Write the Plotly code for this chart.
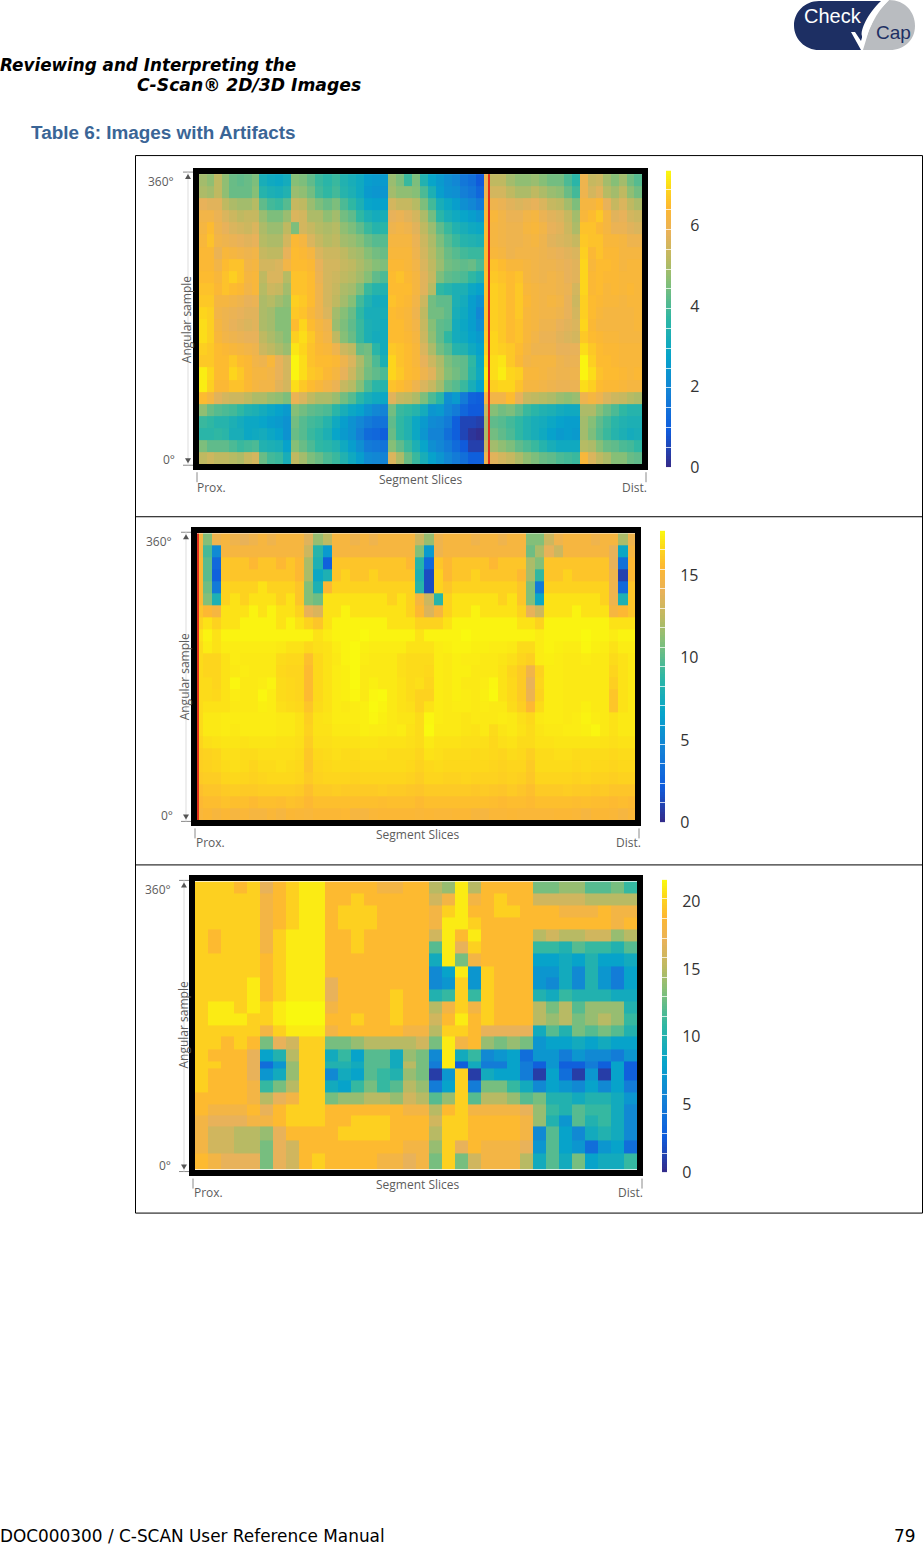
import numpy as np
import plotly.graph_objects as go

W, H = 923, 1556
YK = 1.0076
R = 9
H1_X = [0,0.94,1.88,2.82,3.76,4.7,5.64,6.58,7.5,8.5,9.5,10.5,11.5,12.5,13.5,14.5,15.5,16.5,17.5,18.5,19.5,20.5,21.5,22.5,23.5,
        24.5,25.5,26.5,27.5,28.5,29.5,30.5,31.5,32.5,33.5,34.5,35.5,36.0,36.25,37.26,38.28,39.3,40.32,41.34,42.36,43.38,44.4,45.42,46.44,47.46,
        48.42,49.39,50.35,51.31,52.27,53.24,54.2,55.16]
H1_Y = [360,345,330,315,300,285,270,255,240,225,210,195,180,165,150,135,120,105,90,75,60,45,30,15,0]
H1_Z = [
[4.9,4.7,5.2,4.7,4.3,4.2,4.3,4.5,3.2,3.0,2.9,3.1,4.6,4.5,4.2,3.8,3.6,3.8,3.4,3.2,3.0,2.6,2.5,2.5,4.8,4.5,3.8,4.5,3.4,2.8,2.5,2.2,2.0,1.6,1.4,0.9,6.0,R,5.2,5.2,4.9,4.7,4.7,4.8,4.6,4.4,4.4,4.0,3.6,6.0,5.3,5.4,4.9,4.6,4.9,4.4,4.1],
[5.0,4.9,5.2,4.7,4.3,4.3,4.3,4.6,3.5,3.3,3.2,3.4,4.8,4.7,4.4,3.9,3.7,3.9,3.5,3.3,3.0,2.5,2.4,2.4,4.9,4.7,4.7,4.6,4.0,3.3,2.6,2.3,2.2,1.8,1.6,1.2,6.0,R,5.5,5.5,5.2,5.0,5.0,5.2,5.0,4.8,4.7,4.3,3.9,6.0,5.5,5.7,5.1,4.9,5.2,4.7,4.4],
[5.8,5.7,5.7,5.2,5.0,4.9,4.9,5.1,4.2,3.9,3.8,4.1,5.3,5.2,4.8,4.5,4.3,4.5,4.0,3.7,3.3,2.8,2.7,2.7,5.5,5.3,5.3,5.1,4.5,3.9,3.2,2.9,2.6,2.2,2.0,1.7,6.3,R,6.0,5.9,5.7,5.6,5.7,5.8,5.6,5.3,5.2,4.9,4.5,6.2,6.2,6.4,5.8,5.3,5.6,5.2,5.0],
[6.1,6.1,5.9,5.6,5.4,5.2,5.3,5.3,4.8,4.5,4.5,4.8,5.6,5.5,5.0,5.0,4.7,4.9,4.4,4.2,3.7,3.3,3.1,3.2,5.8,5.9,5.7,5.5,5.0,4.4,3.6,3.2,3.0,2.8,2.6,2.4,6.4,R,6.3,6.1,5.9,5.9,6.1,6.2,5.9,5.7,5.6,5.3,4.9,6.3,6.5,6.7,6.2,5.7,5.8,5.5,5.4],
[6.2,6.5,6.0,5.8,5.6,5.5,5.4,5.6,5.0,4.8,4.8,5.2,4.5,5.5,5.3,5.1,5.0,5.1,4.7,4.5,4.2,3.8,3.5,3.6,6.0,6.1,6.0,5.7,5.2,4.8,4.2,3.8,3.4,3.2,3.0,2.9,6.5,R,6.2,6.1,6.0,6.0,6.2,6.3,6.1,5.8,5.7,5.4,5.0,6.6,6.6,6.4,6.2,5.9,5.9,5.7,5.6],
[6.3,6.6,6.1,6.0,5.9,5.8,5.7,5.8,5.1,5.0,5.0,5.5,6.4,6.2,5.6,5.3,5.1,5.2,4.9,4.8,4.6,4.3,4.1,4.1,6.2,6.2,6.2,5.9,5.4,5.0,4.5,4.1,3.8,3.5,3.4,3.3,6.5,R,6.2,6.1,6.0,6.0,6.1,6.2,6.0,5.7,5.6,5.5,5.3,6.7,6.6,6.6,6.3,6.3,6.2,6.0,6.0],
[6.4,6.4,5.9,6.3,6.2,6.1,6.0,6.1,5.3,5.2,5.2,5.8,6.5,6.4,6.2,5.6,5.4,5.4,5.2,5.0,4.9,4.6,4.4,4.3,6.3,6.3,6.3,6.0,5.5,5.1,4.7,4.3,4.1,3.9,3.8,3.8,6.5,R,6.3,6.2,6.0,6.1,6.1,6.1,6.0,5.9,5.8,5.7,5.6,6.8,6.4,6.6,6.4,6.4,6.2,6.2,6.2],
[6.4,6.4,6.1,6.5,6.6,6.6,6.1,6.2,5.5,5.5,5.6,6.1,6.5,6.5,6.4,5.8,5.5,5.5,5.3,5.2,5.0,4.8,4.6,4.5,6.4,6.4,6.3,6.1,5.6,5.2,4.8,4.4,4.3,4.2,4.3,4.0,6.5,R,6.6,6.5,6.3,6.3,6.2,6.1,6.0,6.0,5.9,5.8,5.7,6.9,6.3,6.5,6.5,6.4,6.2,6.3,6.3],
[6.5,6.5,6.3,6.6,6.8,6.6,6.2,6.3,5.2,5.6,5.6,5.1,6.6,6.6,6.5,5.9,5.5,5.4,5.2,5.1,4.9,4.6,4.2,4.0,6.5,6.6,6.4,6.2,5.7,5.3,4.5,4.2,4.1,4.0,3.7,3.4,6.6,R,6.7,6.6,6.5,6.6,6.2,6.1,6.0,6.1,6.0,5.8,5.7,6.9,6.4,6.5,6.4,6.4,6.3,6.3,6.3],
[6.6,6.6,6.4,6.6,6.5,6.4,6.1,6.3,5.1,5.4,5.3,4.9,6.6,6.6,6.5,6.0,5.5,5.3,5.0,4.9,4.5,3.8,3.5,3.4,6.5,6.5,6.5,6.2,5.7,5.1,3.7,3.5,3.3,3.3,2.9,2.7,6.6,R,6.8,6.7,6.5,6.7,6.3,6.2,6.1,6.1,6.0,5.9,5.5,6.9,6.4,6.5,6.3,6.4,6.3,6.4,6.3],
[6.7,6.7,6.2,6.2,6.1,6.0,5.8,5.9,5.0,5.1,4.9,4.7,6.8,6.7,6.5,6.0,5.5,5.2,4.9,4.6,3.9,3.4,3.1,3.1,6.6,6.5,6.4,6.1,5.4,4.4,4.2,4.2,3.3,3.1,2.6,2.3,6.6,R,6.8,6.7,6.5,6.7,6.4,6.2,6.1,6.2,6.1,5.8,5.4,6.8,6.5,6.4,6.3,6.3,6.2,6.3,6.3],
[6.9,6.8,6.1,6.0,5.9,5.8,5.7,5.7,5.0,4.9,4.6,4.6,6.7,6.6,6.3,6.0,5.6,4.9,4.6,4.3,3.7,3.2,3.2,3.2,6.5,6.4,6.3,6.0,5.2,4.4,4.4,4.2,3.2,3.0,2.6,2.0,6.6,R,6.8,6.7,6.5,6.7,6.3,6.2,6.1,6.1,6.0,5.8,5.5,6.8,6.5,6.3,6.2,6.2,6.2,6.2,6.3],
[7.0,6.8,6.2,6.0,5.8,5.7,5.6,5.7,5.0,4.9,4.6,4.6,6.5,6.9,6.5,6.2,6.0,4.8,4.5,4.2,3.8,3.3,3.2,3.1,6.5,6.5,6.3,6.1,5.3,4.6,4.2,4.1,3.1,2.9,2.6,2.2,6.6,R,6.8,6.7,6.5,6.6,6.3,6.2,6.0,6.0,5.8,5.7,5.6,6.9,6.4,6.2,6.2,6.2,6.2,6.2,6.3],
[7.0,6.8,6.3,6.1,6.0,5.9,5.8,5.8,5.2,5.0,4.8,4.6,6.8,7.0,6.7,6.3,6.1,5.2,4.6,4.3,3.8,3.3,3.1,3.1,6.5,6.5,6.4,6.2,5.4,4.7,4.2,3.7,3.1,3.0,2.7,2.5,6.7,R,6.9,6.7,6.5,6.6,6.3,6.1,5.9,5.9,5.7,5.6,5.5,6.7,6.5,6.4,6.3,6.3,6.2,6.2,6.2],
[6.8,6.7,6.5,6.4,6.3,6.2,6.1,6.0,5.4,5.2,5.0,4.8,7.1,6.9,6.6,6.4,6.3,6.0,5.4,5.2,4.3,4.4,3.6,3.1,6.7,6.6,6.5,6.3,5.6,5.0,4.4,4.1,3.5,3.4,3.0,2.7,6.8,R,6.9,6.8,6.7,6.5,6.2,6.0,6.0,6.0,5.8,5.8,5.8,7.0,6.7,6.5,6.4,6.4,6.3,6.3,6.3],
[6.7,6.7,6.5,6.5,6.7,6.5,6.4,6.1,6.0,6.3,5.8,5.5,7.3,7.0,6.6,6.5,6.5,6.4,6.0,5.6,5.0,4.5,4.0,3.3,6.9,6.6,6.5,6.3,5.8,5.4,5.0,4.5,4.3,4.2,3.7,2.9,7.0,R,7.0,7.1,6.7,6.4,6.1,6.2,6.2,6.2,6.0,5.9,5.9,7.3,6.8,6.5,6.5,6.4,6.3,6.3,6.3],
[7.2,6.9,6.5,6.5,6.9,6.7,6.4,6.2,6.2,6.1,5.8,5.5,7.3,7.0,6.7,6.6,6.4,6.2,5.8,5.4,4.9,4.4,4.2,4.0,6.9,6.7,6.5,6.4,6.0,5.7,5.1,4.6,4.4,4.2,3.6,3.0,7.2,R,7.0,7.2,6.9,6.8,6.3,6.3,6.2,6.1,6.0,6.0,6.0,7.3,7.0,6.6,6.5,6.5,6.4,6.3,6.4],
[7.2,6.8,6.4,6.4,6.6,6.6,6.4,6.2,6.1,6.1,5.7,5.5,7.0,6.7,6.5,6.3,6.1,5.9,5.3,5.1,4.6,4.0,3.6,3.5,6.6,6.5,6.3,6.0,5.6,5.3,4.9,4.3,4.1,3.8,3.2,2.7,7.0,R,6.8,6.9,6.9,6.6,6.2,6.2,6.1,6.0,5.9,5.9,5.9,7.0,6.8,6.5,6.4,6.4,6.3,6.2,6.2],
[6.5,6.2,5.7,5.5,5.4,5.4,5.2,5.0,5.0,4.8,4.7,4.5,5.9,5.6,5.2,5.0,5.0,4.8,4.4,4.1,3.6,3.2,3.0,2.9,5.7,5.3,5.2,5.0,4.5,4.0,3.6,2.2,2.5,1.7,1.1,1.0,6.2,R,6.1,6.1,6.5,5.8,5.3,5.2,5.1,5.0,4.8,4.7,4.8,6.0,6.2,6.0,5.6,5.4,5.3,5.1,5.0],
[4.7,4.3,4.1,4.0,3.9,3.7,3.4,3.3,3.1,2.9,2.7,2.5,4.6,4.4,4.2,4.1,4.0,3.6,3.2,2.9,2.7,2.3,2.0,1.9,4.4,3.8,3.7,3.5,3.1,2.4,2.5,2.0,1.7,1.2,0.9,0.9,5.3,R,4.6,4.4,4.5,4.2,3.8,3.6,3.4,3.3,3.1,3.0,3.0,5.0,5.0,4.6,4.3,4.0,3.7,3.5,3.5],
[3.8,3.7,3.5,3.5,3.3,3.1,2.9,2.9,2.8,2.6,2.5,2.3,4.4,4.1,3.9,3.8,3.5,3.0,2.6,2.3,2.0,1.7,1.5,1.5,4.2,3.7,3.4,2.9,2.5,2.1,2.0,1.7,1.0,0.5,0.5,0.4,5.0,R,4.2,4.1,3.9,3.7,3.4,3.2,3.1,2.9,2.7,2.6,2.6,4.9,4.6,4.2,3.9,3.6,3.4,3.3,3.3],
[3.6,3.6,3.7,3.6,3.2,3.2,2.9,3.0,3.1,2.9,2.7,2.3,4.3,4.1,3.8,3.6,3.3,2.8,2.5,2.3,1.8,1.3,1.2,1.0,4.3,3.7,3.4,2.9,2.4,1.9,1.9,1.4,1.0,0.5,0.2,0.1,5.0,R,4.4,4.2,4.0,3.7,3.4,3.2,3.0,2.7,2.5,2.6,2.5,4.9,4.5,4.1,3.8,3.5,3.3,3.1,3.2],
[4.5,4.2,4.2,4.2,4.0,3.8,3.9,4.0,3.4,3.3,3.2,2.7,4.6,4.3,4.0,3.7,3.6,3.4,3.0,2.6,2.2,1.7,1.6,1.5,4.6,4.2,3.8,3.3,2.8,2.2,2.0,1.7,1.3,0.9,0.4,0.4,5.4,R,4.9,4.7,4.5,4.2,4.0,3.8,3.5,3.2,3.0,3.0,3.0,5.1,5.0,4.6,4.3,4.2,4.0,3.9,3.7],
[5.2,5.4,5.2,5.2,5.1,5.0,5.3,5.5,4.3,3.9,3.8,3.2,5.2,4.9,4.5,4.3,4.0,3.8,3.4,3.0,2.6,2.1,2.0,1.9,5.6,5.0,4.3,3.8,3.2,2.7,2.4,2.0,1.7,1.4,1.0,1.0,6.0,R,5.7,5.5,5.3,5.0,4.7,4.5,4.3,4.2,4.0,3.9,3.8,6.3,5.6,5.2,5.0,4.6,4.6,4.3,4.2],
]

S = 25
H2_X = [0,0.24,0.6,1.6,2.6,3.6,4.6,5.6,6.6,7.6,8.6,9.6,10.6,11.6,12.6,13.6,14.6,15.6,16.6,17.6,18.6,19.6,20.6,21.6,22.6,23.6,24.6,25.6,26.6,27.6,28.6,29.6,30.6,31.6,32.6,33.6,34.6,35.6,36.6,37.6,38.6,39.6,40.6,41.6,42.6,43.6,44.6,45.6,46.6,47.4]
H2_Y = H1_Y
H2_Z = [
[S,15,11,14.5,15,14.5,14,14.5,15,14.5,15,15,15,13.7,11.5,12.5,15,15,14.5,15,14.5,15,15,15,15,13,11.5,14.5,15,15,15,14.5,15,15,14.5,15,15,11,11,13,14.5,15,15,15,14.5,15,15,12,14.5],
[S,15,9.5,5,15,15,15,15,15,15,15,15,15,13,8.5,6,15,15,15,15,15,15,15,15,15,11,6,14.5,15,15,15,15,15,15,15,15,15,10.5,12,14,13,15,15,15,15,15,14,7,15],
[S,15.5,10,3,16,16,16,15.5,16,16,15.5,16,15.5,12,8,2.5,16,16,16,16,16,16,16,16,15.5,8.5,3,16,15.5,16,16,16,16,15.5,16,16,16,12,11,16,16,16,16,16,16,16,14,3.5,15.5],
[S,15.5,10,2.5,16,16,16,16,16,16,16,16,15.5,12,7,8,16,16.5,16,16,16.5,16,16,16,16,8,1.5,16.5,15.5,16,16,16.5,16,16,16,16,15.5,12,9,16,16,16.5,16,16,16,16,14.5,1,15.5],
[S,15.5,10.5,4,16.5,16.5,16.5,16.5,17,16.5,16.5,16.5,16,11,8,15.5,16.5,16.5,16.5,16.5,16.5,16.5,16.5,16.5,16.5,8.5,1.5,16.5,16,16.5,16.5,16.5,16.5,16.5,16.5,16.5,16,11,4,16.5,16.5,16.5,16.5,16.5,16.5,16.5,14.5,3,16],
[S,15.5,11,8,16.5,17,16.5,17,17,17,16.5,17,16,11,10.5,17,17,17,17,17,17,17,16.5,17,16.5,15,13,8.5,16.5,17,17,17,17,17,16.5,17,16,11,7,17,17,17,17,17,17,16.5,14.5,8,16],
[S,16,15.5,15,17,17,17,17.5,17,17.5,17,17,16.5,14,13.5,17,17,17.5,17,17,17,17,17,17,16.5,15.5,13.5,15,16.5,17,17,17.5,17,17,17,17,16.5,14,13,17,17,17,17.5,17,17,17,15,15.5,16],
[S,16.5,17,16.5,17,17,17.5,17.5,17.5,17.5,17,17.5,17,16.5,16,17,17.5,17.5,17.5,17.5,17.5,17.5,17,17,17,16.5,16.5,16.5,17,17.5,17.5,17.5,17.5,17.5,17.5,17.5,17,17,16.5,17.5,17.5,17.5,17.5,17.5,17.5,17.5,17,17,17],
[S,17,17.5,17,17.5,17.5,17.5,17.5,17.5,17.5,17.5,17.5,17.5,17.5,17,17.3,17.5,17.5,17.5,17.7,17.5,17.5,17.5,17.5,17.5,17,17.5,17.5,17.5,17.5,17.7,17.5,17.5,17.5,17.5,17.5,17.5,17.5,17.3,17.5,17.5,17.5,17.5,17.7,17.5,17.5,17.3,17.5,17.5],
[S,16.8,17.3,17,17.3,17.3,17.3,17.3,17.3,17.3,17.2,17,17,16.7,16.9,17,17.3,17.5,17.7,17.4,17.3,17.3,17.3,17.3,17,17,17,17.3,17.4,17.5,17.5,17.4,17.4,17.3,17.3,17.2,16.8,16.8,17.3,17.5,17.4,17.3,17.3,17.6,17.4,17.3,17,17.3,17.3],
[S,16.8,16.6,16.6,17,17.3,17.2,17.2,17.2,17.2,16.8,16.7,16.7,15.8,16.7,17,17.2,17.5,17.7,17.3,17.2,17.2,17.2,16.9,16.8,16.8,16.8,17.3,17.2,17.4,17.3,17.3,17.2,17.2,17.1,16.9,16.6,16.4,17.3,17.4,17.3,17.2,17.2,17.3,17.2,17.2,16.8,17,17.2],
[S,16.8,16.6,16.6,17,17.2,17.3,17.2,17.2,17.2,16.7,16.6,16.6,15.6,16.7,17,17.3,17.4,17.7,17.2,17.2,17.2,17.2,16.9,16.8,16.8,16.7,17.3,17.2,17.4,17.4,17.2,17.2,17.2,17,16.6,16.2,14.6,16.5,17.3,17.3,17.2,17.2,17.2,17.2,17.2,16.6,17,17.2],
[S,16.8,16.8,16.6,17,17.6,17.2,17.2,17.3,17.5,16.8,16.7,16.6,15.6,16.7,17,17.3,17.4,17.7,17.2,17.4,17.2,17.2,17,16.8,16.9,16.6,17.3,17.2,17.4,17.2,17.2,17.3,17.6,17,16.7,16.2,14,16.6,17.3,17.3,17.2,17.2,17.2,17.2,17.2,16.4,17,17.2],
[S,16.8,16.8,16.7,17,17.3,17.2,17.2,17.6,17.3,16.8,16.7,16.6,15.6,16.7,17,17.3,17.4,17.6,17.2,17.6,17.7,17.2,17,16.8,16.5,16.5,17.3,17.2,17.4,17.3,17.2,17.4,17.7,17,16.7,16.2,14.3,16.5,17.3,17.3,17.2,17.2,17.2,17.2,17.2,16,17,17.2],
[S,16.8,17,17,17,17.2,17.2,17.2,17.4,17.3,16.9,16.8,16.7,16,16.8,17,17.3,17.2,17.3,17.4,17.7,17.5,17.2,17,16.9,16.5,17,17.3,17.2,17.3,17.3,17.2,17.3,17.2,17.2,16.8,16.4,15.5,16.8,17.3,17.3,17.2,17.2,17.4,17.2,17.2,16,17,17.2],
[S,16.8,17.2,17.2,17.3,17.3,17.3,17.3,17.3,17.3,17.2,17.2,17,16.4,17,17.1,17.3,17.3,17.3,17.4,17.6,17.4,17.2,17.1,17.1,16.8,17.6,17.3,17.2,17.2,17.1,17.2,17.2,17.2,17.3,17.2,16.9,16.7,17.2,17.3,17.3,17.2,17.3,17.5,17.3,17.2,17,17.2,17.2],
[S,16.8,17.2,17.2,17.3,17.2,17.3,17.3,17.3,17.3,17.2,17.2,17,16.5,17,17,17.2,17.2,17.2,17.4,17.3,17.3,17.2,17.3,17,16.8,17.7,17.2,17.2,17.2,17.1,17,17.2,16.8,17.1,17.2,17,16.8,17.1,17.2,17.2,17.3,17.3,17.4,17.6,17.2,17,17.2,17.2],
[S,16.6,16.9,17,17.1,17.1,17,17.1,17.1,17.1,17,17,16.9,16.3,16.9,16.9,17,17,17,17.1,17.1,17,17,17,16.9,16.8,17.2,17,17,17,16.9,16.9,16.9,16.7,16.9,17,16.8,16.8,17,17,17.1,17.1,17.1,17.1,17.1,17,16.9,17,17],
[S,16.4,16.5,16.6,16.9,16.9,16.8,16.8,16.9,16.9,16.9,16.9,16.8,16.1,16.7,16.8,16.9,16.8,16.8,16.9,16.9,16.9,16.8,16.8,16.8,16.6,17,16.9,16.8,16.8,16.8,16.7,16.8,16.7,16.6,16.8,16.7,16.4,16.8,16.8,16.9,16.9,16.8,16.8,16.8,16.8,16.7,16.8,16.8],
[S,16.4,16.5,16.6,16.8,16.9,16.8,16.6,16.8,16.8,16.9,16.8,16.7,16,16.6,16.7,16.8,16.8,16.7,16.8,16.8,16.8,16.8,16.8,16.7,16.5,16.7,16.8,16.7,16.7,16.7,16.7,16.7,16.6,16.5,16.6,16.6,16.2,16.8,16.8,16.8,16.8,16.7,16.8,16.7,16.7,16.6,16.7,16.7],
[S,16.2,16.3,16.3,16.6,16.7,16.6,16.5,16.6,16.7,16.7,16.7,16.6,16.2,16.5,16.6,16.6,16.6,16.5,16.6,16.6,16.6,16.6,16.6,16.5,16.3,16.6,16.6,16.5,16.5,16.6,16.5,16.5,16.5,16.4,16.5,16.4,16.1,16.6,16.6,16.6,16.6,16.5,16.6,16.5,16.5,16.4,16.5,16.5],
[S,15.8,16,16,16.2,16.3,16.2,16.2,16.3,16.3,16.3,16.3,16.2,15.8,16.2,16.2,16.3,16.2,16.2,16.2,16.2,16.3,16.2,16.2,16.1,16,16.2,16.2,16.2,16.2,16.2,16.1,16.2,16.1,16,16.2,16,15.8,16.2,16.2,16.2,16.3,16.2,16.2,16.1,16.2,16,16,16],
[S,15.5,15.7,15.7,15.9,15.8,15.8,15.6,15.8,15.8,15.7,15.9,15.8,15.5,15.8,15.8,15.8,15.8,15.8,15.8,15.8,15.7,15.8,15.8,15.8,15.6,15.8,15.8,15.8,15.8,15.8,15.8,15.8,15.7,15.6,15.7,15.7,15.6,15.8,15.8,15.8,15.8,15.7,15.8,15.7,15.7,15.6,15.7,15.6],
[S,15.2,15.4,15.1,15.4,15,15.3,15,15,15.3,15,15.4,15.3,15.2,15.4,15.4,15.4,15.5,15,15,15.3,15.4,15.4,15.4,15.4,15.3,15.4,15.3,15.3,15.4,15.4,15.1,15,15.3,15.3,15.4,15.3,15.3,15.3,15.3,15.4,15.4,15.3,15,15.4,15.4,15.3,15,15.3],
]

H3_X = list(range(0, 35))
H3_Y = [360,345,330,315,300,285,270,253.75,240,225,210,195,180,166.25,150,135,126.25,111.25,96.25,81.25,67.5,53.75,36.25,19.6,0]
H3_Z = [
[20,20,20,19,20,17,19,20,21,21,19,19,19,19,18,18,19,19,15,14,21,15,19,19,19,19,13,13,14,14,12,12,13,11],
[20,20,20,20,20,18,19,20,21,21,19,19,20,19,19,19,19,19,16,18,21,18,19,20,19,19,16,16,16,16,15,15,15,15],
[20,20,20,20,20,18,19,20,21,21,19,20,20,20,19,19,19,19,18,20,21,19,19,20,20,19,19,19,18,18,18,19,18,18],
[20,20,20,20,20,18,19,20,21,21,19,20,20,20,19,19,19,19,18,21,21,20,19,19,19,19,19,19,19,19,19,19,18,19],
[20,19,20,20,20,18,20,21,21,21,19,19,20,19,19,19,19,19,16,21,19,21,19,19,19,19,15,16,15,15,16,16,14,15],
[20,19,20,20,20,18,20,21,21,21,19,19,20,19,19,19,19,19,12,21,17,20,19,19,19,19,11,11,10,12,11,11,10,12],
[20,20,20,20,20,19,20,21,21,21,19,19,19,19,19,19,19,19,9,21,13,18,19,19,19,19,8,8,9,8,10,8,8,9],
[20,20,20,20,20,19,20,21,21,21,19,19,19,19,19,19,19,19,6,8,21,7,20,19,19,19,7,7,9,6,10,7,5,8],
[20,20,20,20,21,19,20,21,21,21,17,19,19,19,19,19,19,19,6,7,20,7,20,19,19,19,7,6,9,6,10,7,5,8],
[20,20,20,20,21,19,20,21,21,21,17,19,19,19,19,20,19,19,10,11,20,11,20,19,19,19,10,9,11,10,10,10,9,9],
[20,21,21,20,21,20,21,21.5,21.5,21.5,18,19,19,19,19,20,19,19,15,18,20,18,20,19,19,19,15,13,15,12,14,14,14,10],
[20,21,21,21,20,20,21,21.5,21.5,21.5,19,19,20,19,19,20,19,19,16,19,21,19,20,19,19,19,15,14,15,13,14,15,14,11],
[20,20,20,20,20,18,20,21,21,21,18,19,19,19,19,19,18,18,15,20,20,19,17,17,17,17,9,12,10,13,12,13,12,10],
[20,20,19,20,19,13,17,16,20,20,13,13,14,15,15,15,15,16,13,21,18,19,14,13,14,13,7,8,8,9,8,9,8,8],
[20,19,19,19,17,8,10,15,20,20,9,11,8,12,12,9,14,13,6,21,9,11,6,7,8,4,7,7,5,7,6,6,5,7],
[20,20,19,19,17,4,7,14,20,20,10,10,9,12,12,9,15,13,5,21,3,9,5,5,8,5,3,7,3,3,5,3,8,3],
[20,19,19,19,17,7,9,14,20,20,6,9,8,12,11,10,14,13,1,7,20,1,9,8,8,5,1,8,4,1,7,1,8,3],
[20,19,19,19,18,11,13,15,20,20,9,8,11,13,11,12,15,14,5,8,20,5,13,13,11,9,6,8,7,6,8,6,8,5],
[19,19,19,19,18,15,17,18,20,20,13,14,14,15,15,14,16,15,12,14,20,12,15,15,14,12,13,10,10,9,10,10,9,7],
[19,18,18,18,19,17,19,20,20,20,19,19,19,19,19,19,18,18,15,19,20,18,18,18,18,17,14,11,10,12,11,11,9,6],
[18,17,17,17,18,18,19,20,20,20,19,19,20,20,20,19,19,19,16,20,20,19,19,19,19,18,14,10,7,12,10,11,9,6],
[18,16,16,15,15,14,17,19,19,19,19,20,20,20,20,19,19,19,15,20,20,19,19,19,19,18,6,12,8,6,9,10,9,6],
[18,16,16,15,15,13,17,16,19,19,19,19,19,19,19,19,18,18,14,20,17,19,18,18,18,17,7,12,8,7,4,7,8,4],
[19,18,17,17,17,13,17,16,19,20,19,19,19,19,18,18,17,18,13,20,13,16,18,18,18,15,9,12,9,13,8,9,9,11],
]

ZMAX = [7.37, 17.75, 21.6]
CB_TICKS = [[0, 2, 4, 6], [0, 5, 10, 15], [0, 5, 10, 15, 20]]
CB_STANDOFF = [15, 11, 11]
PLOT_PX = [(199, 642, 174, 464), (197, 635, 533, 820), (195, 637, 881, 1169)]
CB_PX = [(666, 671, 170, 467), (660, 665, 530, 822), (662, 667, 879, 1172)]

OVER = 1.05
PARULA = [(0, "#352a87"), (1, "#0f5cdd"), (2, "#1481d6"), (3, "#06a4ca"), (4, "#2eb7a4"), (5, "#87bf77"),
          (5.6, "#bcba62"), (6.3, "#e8b25a"), (7, "#fdb832"), (7.5, "#fdd61c"), (8, "#f9fb0e")]
SCALE = [[i / 8 / OVER, c] for i, c in PARULA] + [[1 / OVER + 0.001, "#e2301c"], [1, "#e2301c"]]


def px(x):
    return x / W


def py(y):
    return 1 - y * YK / H


fig = go.Figure()
grids = [(H1_X, H1_Y, H1_Z), (H2_X, H2_Y, H2_Z), (H3_X, H3_Y, H3_Z)]
for i, (xs, ys, zs) in enumerate(grids):
    n = 2 * i + 1
    xa = "x" if n == 1 else f"x{n}"
    ya = "y" if n == 1 else f"y{n}"
    fig.add_trace(go.Heatmap(x=xs, y=ys, z=zs, zmin=0, zmax=ZMAX[i] * OVER, colorscale=SCALE,
                             showscale=False, hoverinfo="skip", xaxis=xa, yaxis=ya))
    l, r, t, b = PLOT_PX[i]
    frame = dict(showline=True, linecolor="black", linewidth=6, mirror=True, showgrid=False,
                 zeroline=False, showticklabels=False, ticks="")
    fig.layout[f"xaxis{'' if n == 1 else n}"] = dict(domain=[px(l), px(r)], anchor=ya, range=[xs[0], xs[-1]], **frame)
    fig.layout[f"yaxis{'' if n == 1 else n}"] = dict(domain=[py(b), py(t)], anchor=xa, range=[0, 360], **frame)

    levels = np.linspace(0, ZMAX[i], 120)
    m = n + 1
    cl, cr, ct, cb = CB_PX[i]
    fig.add_trace(go.Heatmap(x=[0, 1], y=levels, z=[[v, v] for v in levels], zmin=0, zmax=ZMAX[i] * OVER,
                             colorscale=SCALE, showscale=False, hoverinfo="skip", xaxis=f"x{m}", yaxis=f"y{m}"))
    fig.layout[f"xaxis{m}"] = dict(domain=[px(cl), px(cr)], anchor=f"y{m}", range=[0, 1], visible=False)
    fig.layout[f"yaxis{m}"] = dict(domain=[py(cb), py(ct)], anchor=f"x{m}", side="right", range=[0, ZMAX[i]],
                                   showgrid=False, zeroline=False, showline=False,
                                   tickvals=CB_TICKS[i], ticks="outside", ticklen=CB_STANDOFF[i], tickcolor="rgba(0,0,0,0)",
                                   tickfont=dict(family="Open Sans", size=16, color="#333333"),
                                   minor=dict(tickvals=list(np.linspace(0, ZMAX[i], 16)), ticks="inside", ticklen=5,
                                              tickcolor="rgba(255,255,255,0.75)", tickwidth=1))

GRAY = "#5c5c5c"
anns = []


def text(x, y, s, size, color="#000000", family="Open Sans", anchor="left", angle=0):
    anns.append(dict(x=px(x), y=py(y), xref="paper", yref="paper", text=s, showarrow=False, xanchor=anchor,
                     yanchor="middle", textangle=angle, font=dict(family=family, size=size, color=color)))


DEJA = "DejaVu Sans"
text(-2, 65, "<b><i>Reviewing and Interpreting the</i></b>", 16.8, family=DEJA)
text(135, 85, "<b><i>C-Scan® 2D/3D Images</i></b>", 17.2, family=DEJA)
text(29, 132, "<b>Table 6: Images with Artifacts</b>", 18.9, color="#3a6596", family="Liberation Sans")
text(-2, 1535, "DOC000300 / C-SCAN User Reference Manual", 16.9, family=DEJA)
text(892, 1535, "79", 16.9, family=DEJA)

LABELS = [
    dict(t360=(176, 181), t0=(177, 459), ang=(186, 320), seg=(421, 479), prox=(195, 487), dist=(649, 487), ticks=(197, 646, 472, 482), arrow=188, yr=(172, 465)),
    dict(t360=(174, 541), t0=(175, 815), ang=(184, 677), seg=(418, 834), prox=(194, 842), dist=(643, 842), ticks=(195, 639, 828, 838), arrow=186, yr=(532, 821)),
    dict(t360=(173, 889), t0=(173, 1165), ang=(183, 1025), seg=(418, 1184), prox=(192, 1192), dist=(645, 1192), ticks=(193, 642, 1178, 1188), arrow=184, yr=(880, 1171)),
]
shapes = []


def line(x0, y0, x1, y1, color="#000000", width=1):
    shapes.append(dict(type="line", xref="paper", yref="paper", x0=px(x0), y0=py(y0), x1=px(x1), y1=py(y1),
                       line=dict(color=color, width=width)))


def path(points, fill, close=True):
    d = ""
    for p in points:
        if len(p) == 2:
            d += ("M" if not d else "L") + f"{px(p[0]):.5f},{py(p[1]):.5f} "
        else:
            d += "C" + ",".join(f"{px(p[k]):.5f},{py(p[k + 1]):.5f}" for k in (0, 2, 4)) + " "
    shapes.append(dict(type="path", xref="paper", yref="paper", path=d + "Z", fillcolor=fill, line=dict(width=0)))


for lab in LABELS:
    text(*lab["t360"], "360°", 12, GRAY, anchor="right")
    text(*lab["t0"], "0°", 12, GRAY, anchor="right")
    text(*lab["ang"], "Angular sample", 12, GRAY, anchor="center", angle=-90)
    text(*lab["seg"], "Segment Slices", 12, GRAY, anchor="center")
    text(*lab["prox"], "Prox.", 12, GRAY)
    text(*lab["dist"], "Dist.", 12, GRAY, anchor="right")
    a, b, t0, t1 = lab["ticks"]
    line(a, t0, a, t1, "#8a8a8a")
    line(b, t0, b, t1, "#8a8a8a")
    ax = lab["arrow"]
    top, bot = lab["yr"]
    line(ax - 5, top, ax + 5, top, "#8a8a8a")
    line(ax - 5, bot, ax + 5, bot, "#8a8a8a")
    line(ax, top, ax, bot, "#dddddd")
    path([(ax - 3, top + 7), (ax + 3, top + 7), (ax, top + 2)], "#555555")
    path([(ax - 3, bot - 7), (ax + 3, bot - 7), (ax, bot - 2)], "#555555")

for (x0, y0, x1, y1) in [(135.5, 155.5, 922.5, 155.5), (135.5, 516.5, 922.5, 516.5), (135.5, 864.5, 922.5, 864.5),
                         (135.5, 1212.5, 922.5, 1212.5), (135.5, 155.5, 135.5, 1212.5), (922.5, 155.5, 922.5, 1212.5)]:
    line(x0, y0, x1, y1)

# logo
path([(889, 0), (905, 0, 915, 12, 915, 26), (915, 40, 904, 50, 890, 50), (862, 50), (868, 30, 876, 12, 889, 0)], "#b9bcc0")
path([(819, 1), (881, 1), (868, 13, 860, 30, 862, 36), (862, 50), (819, 50), (805, 50, 794, 39, 794, 25.5), (794, 12, 805, 1, 819, 1)], "#1d2f63")
path([(851, 32), (855, 32), (861, 41), (866, 24), (874, 10), (883, 0), (889, 0), (876, 14), (869, 30), (863, 50), (861, 50)], "#ffffff")
text(802, 16, "Check", 20, "#ffffff", "Liberation Sans")
text(874, 32, "Cap", 19, "#1d2f63", "Liberation Sans")

fig.update_layout(width=W, height=H, margin=dict(l=0, r=0, t=0, b=0), paper_bgcolor="white", plot_bgcolor="white",
                  showlegend=False, annotations=anns, shapes=shapes)
fig.write_html("out.html", config=dict(displayModeBar=False),
               post_script="document.body.style.margin='0';document.documentElement.style.overflow='hidden';")
